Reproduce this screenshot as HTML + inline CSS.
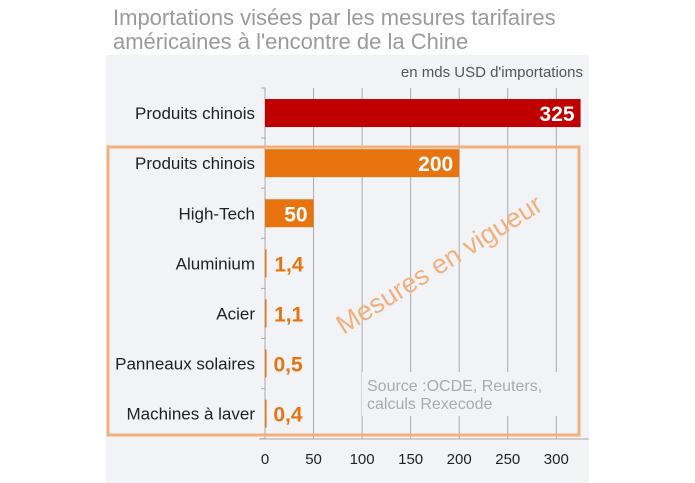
<!DOCTYPE html>
<html><head><meta charset="utf-8"><style>
body{margin:0;background:#fff;font-family:"Liberation Sans",sans-serif}
#wrap{position:relative;width:695px;height:483px;overflow:hidden}
.t{position:absolute;left:113px;color:#9a9a9a;font-size:22px;white-space:nowrap}
</style></head><body>
<div id="wrap">
<div class="t" style="top:5px">Importations visées par les mesures tarifaires</div>
<div class="t" style="top:29px">américaines à l'encontre de la Chine</div>
<svg id="svg" width="695" height="483" style="position:absolute;left:0;top:0"></svg>
</div>
<script>
const categories=["Produits chinois","Produits chinois","High-Tech","Aluminium","Acier","Panneaux solaires","Machines à laver"];
const values=[325,200,50,1.4,1.1,0.5,0.4];
const valueLabels=["325","200","50","1,4","1,1","0,5","0,4"];
const ticks=[0,50,100,150,200,250,300];
const NS="http://www.w3.org/2000/svg";
const svg=document.getElementById('svg');
function mk(t,a,txt){const e=document.createElementNS(NS,t);for(const k in a)e.setAttribute(k,a[k]);if(txt!==undefined)e.textContent=txt;svg.appendChild(e);return e;}
const x=v=>265+v*0.971;
const top0=88,band=50.1;
const y=i=>top0+band*i+band/2;
let e;
e=mk('rect',{x:106,y:55,width:483,height:428,fill:'#f2f3f7'});

e=mk('text',{x:583,y:77,'text-anchor':'end','font-size':15,fill:'#555'},"en mds USD d'importations");

ticks.forEach(t=>{
 if(t>0){e=mk('line',{x1:x(t),x2:x(t),y1:88,y2:439,stroke:'#aaa','stroke-width':1});
 }
 e=mk('text',{x:x(t),y:464,'text-anchor':'middle','font-size':15,fill:'#222'},String(t));
 
});
e=mk('rect',{x:362,y:372,width:195,height:44,fill:'#f2f3f7'});

e=mk('line',{x1:259,x2:589,y1:439,y2:439,stroke:'#aaa'});

e=mk('line',{x1:265,x2:265,y1:88,y2:439,stroke:'#aaa'});

for(let i=0;i<=7;i++){e=mk('line',{x1:261,x2:265,y1:top0+band*i,y2:top0+band*i,stroke:'#aaa'});
 }
categories.forEach((c,i)=>{
 const col=i==0?'#c00000':'#e8740f';
 e=mk('rect',{x:x(0),y:y(i)-14,width:Math.max(x(values[i])-x(0),1.5),height:28,fill:col});
 
 e=mk('text',{x:255,y:y(i)+6,'text-anchor':'end','font-size':17,fill:'#222'},c);
 
 const w=x(values[i])-x(0);
 if(w>40){e=mk('text',{x:x(values[i])-6,y:y(i)+8,'text-anchor':'end','font-size':21,'font-weight':'bold',fill:'#fff'},valueLabels[i]);}
 else{e=mk('text',{x:x(values[i])+8,y:y(i)+8,'font-size':21,'font-weight':'bold',fill:'#e8740f'},valueLabels[i]);}
 
});
e=mk('text',{x:367,y:391,'font-size':16,fill:'#aaa'},'Source :OCDE, Reuters,');

e=mk('text',{x:367,y:409,'font-size':16,fill:'#aaa'},'calculs Rexecode');

e=mk('rect',{x:108,y:147,width:471,height:288,fill:'none',stroke:'#f2b07c','stroke-width':3});

e=mk('text',{x:0,y:0,'text-anchor':'middle','font-size':27,fill:'#f2b07c',transform:'translate(444,272) rotate(-32)'},'Mesures en vigueur');

</script>
</body></html>
